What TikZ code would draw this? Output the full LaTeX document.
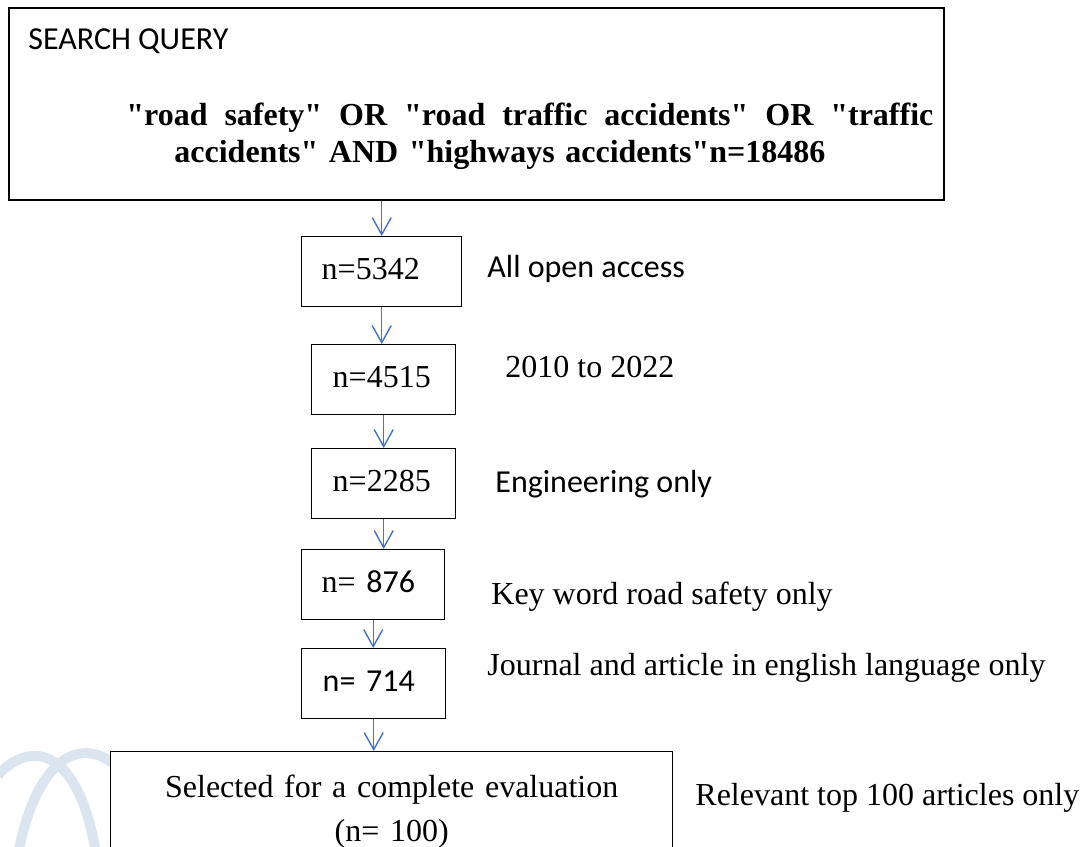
\documentclass[tikz,border=0pt]{standalone}
\usepackage{fontspec}
\setmainfont{Liberation Serif}
\newfontfamily\calibri{Carlito}
\newfontfamily\plainserif{Liberation Serif}
\newcommand{\dq}{{\plainserif\symbol{34}}}
\usetikzlibrary{arrows.meta}
\definecolor{arrowblue}{RGB}{68,114,196}
\definecolor{markblue}{RGB}{218,229,240}
\tikzset{
  box/.style={draw,line width=0.7pt,fill=white,anchor=north west,align=left},
  numbox/.style={box,minimum height=35pt,inner ysep=0pt,text depth=3pt},
  flow/.style={draw=arrowblue,line width=0.7pt,-{Straight Barb[length=8.5pt,width=9.5pt]}},
  note/.style={anchor=base west,inner sep=0pt}
}
\begin{document}
\begin{tikzpicture}[x=0.5pt,y=-0.5pt,font=\fontsize{16}{19}\selectfont]
\useasboundingbox (0,0) rectangle (1085,846);
\clip (0,0) rectangle (1085,846);
\draw[markblue,line width=5pt] (-2,775) .. controls (30,740) and (80,745) .. (97,860);
\draw[markblue,line width=5pt] (17,860) .. controls (40,725) and (120,710) .. (170,860);
\node[draw,line width=0.8pt,anchor=north west,minimum width=467.5pt,minimum height=96pt] (query) at (8,7) {};
\node[note] (querytitle) at (28,49) {\calibri SEARCH QUERY};
\node[note] (querya) at (126,125) {\bfseries\makebox[403.5pt][s]{\dq road safety\dq{} OR \dq road traffic accidents\dq{} OR \dq traffic}};
\node[note] (queryb) at (174,162) {\bfseries\makebox[325.5pt][s]{accidents\dq{} AND \dq highways accidents\dq n=18486}};
\node[numbox,inner xsep=10pt,text width=60pt] (b1) at (301,236) {n=5342};
\node[numbox,inner xsep=10.5pt,text width=51pt] (b2) at (311,344) {n=4515};
\node[numbox,inner xsep=10.5pt,text width=51pt] (b3) at (311,448) {n=2285};
\node[numbox,inner xsep=10pt,text width=51.5pt] (b4) at (301,549) {n= {\calibri 876}};
\node[numbox,inner xsep=10.5pt,text width=51pt] (b5) at (301,648) {\calibri n= 714};
\node[box,align=center,inner xsep=0pt,inner ysep=11.5pt,text width=281pt,
  font=\fontsize{16}{22}\selectfont] (b6) at (110,751) {Selected for a complete evaluation\\(n= 100)};
\node[note] (l1) at (487,277) {\calibri All open access};
\node[note] (l2) at (505,377) {2010 to 2022};
\node[note] (l3) at (495,492) {\calibri Engineering only};
\node[note] (l4) at (491,604) {Key word road safety only};
\node[note] (l5) at (487,675) {Journal and article in english language only};
\node[note] (l6) at (695,805) {Relevant top 100 articles only};
\draw[flow] (b1.north |- query.south) -- (b1.north);
\draw[flow] (b1.south) -- (b1.south |- b2.north);
\draw[flow] (b2.south) -- (b2.south |- b3.north);
\draw[flow] (b3.south) -- (b3.south |- b4.north);
\draw[flow] (b4.south) -- (b4.south |- b5.north);
\draw[flow] (b5.south) -- (b5.south |- b6.north);
\end{tikzpicture}
\end{document}
